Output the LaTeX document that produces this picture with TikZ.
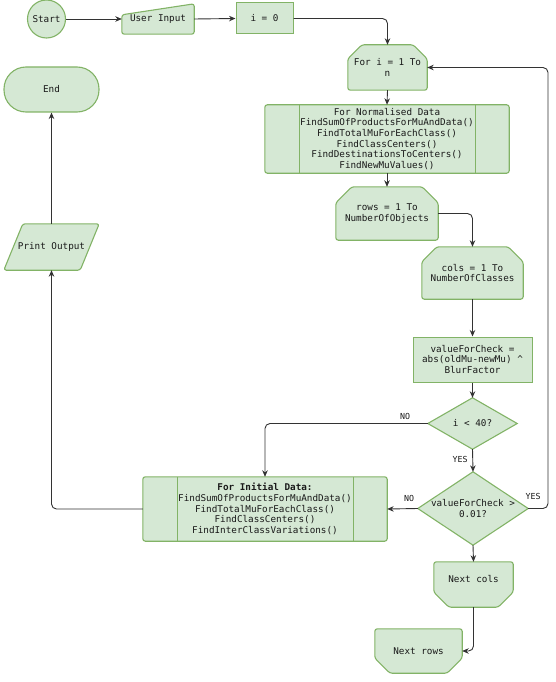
\documentclass[tikz,border=0pt]{standalone}
\usepackage{fontspec}
\newfontfamily\monof{DejaVu Sans Mono}
\usetikzlibrary{arrows.meta,backgrounds,calc}
\definecolor{fillc}{HTML}{D5E8D4}
\definecolor{strokec}{HTML}{82B366}
\definecolor{linec}{HTML}{333333}
\begin{document}
\begin{tikzpicture}[x=1pt,y={(0pt,-1pt)},
  txt/.style={rectangle, inner sep=1pt, align=center, text=black!90,
    font=\monof\fontsize{9.3}{10.7}\selectfont},
  shp/.style={draw=strokec, fill=fillc, line width=1.1pt, rounded corners=2.5pt},
  boxed/.style={txt, draw=strokec, fill=fillc, line width=1pt},
  conn/.style={draw=linec, line width=0.9pt, rounded corners=5pt,
    -{Stealth[length=6.5pt,width=5.5pt]}},
  lbl/.style={inner sep=0pt, text=black!90, font=\monof\fontsize{8.3}{10}\selectfont},
  inner/.style={draw=strokec, line width=1.1pt}]
\useasboundingbox (0,0) rectangle (555,682);

% ---- nodes ----
\node[boxed, circle, minimum size=38pt, inner sep=0pt, line width=1.1pt] (start) at (46.5,19) {Start};
\node[txt, minimum width=72pt, minimum height=30pt] (uin) at (158,19) {User Input};
\node[boxed, minimum width=57pt, minimum height=31pt] (i0) at (264.5,18.5) {i = 0};
\node[boxed, rounded corners=22pt, minimum width=95pt, minimum height=45pt, line width=1.1pt] (end) at (51.5,89.5) {End};
\node[txt, minimum width=79pt, minimum height=45pt] (fori) at (387.5,67.5) {For i = 1 To\\n};
\node[txt, minimum width=244pt, minimum height=68pt] (norm) at (387,139)
  {For Normalised Data\\FindSumOfProductsForMuAndData()\\FindTotalMuForEachClass()\\FindClassCenters()\\FindDestinationsToCenters()\\FindNewMuValues()};
\node[txt, minimum width=102pt, minimum height=53pt] (rows) at (387,213.5) {rows = 1 To\\NumberOfObjects};
\node[txt, minimum width=101pt, minimum height=52pt] (cols) at (472.5,273) {cols = 1 To\\NumberOfClasses};
\node[boxed, minimum width=119pt, minimum height=45pt] (vfc) at (472.5,359.5) {valueForCheck =\\abs(oldMu-newMu) \^{}\\BlurFactor};
\node[txt, minimum width=89pt, minimum height=51pt] (d1) at (472.5,423.5) {i < 40?};
\node[txt, minimum width=110pt, minimum height=73pt] (d2) at (473,508.5) {valueForCheck >\\0.01?};
\node[txt, minimum width=244pt, minimum height=64pt] (init) at (265,509)
  {\textbf{For Initial Data:}\\FindSumOfProductsForMuAndData()\\FindTotalMuForEachClass()\\FindClassCenters()\\FindInterClassVariations()};
\node[txt, minimum width=95pt, minimum height=46pt] (pr) at (51.5,247) {Print Output};
\node[txt, minimum width=79pt, minimum height=45pt] (ncols) at (473.5,584.5) {Next cols\\[-2pt]\strut};
\node[txt, minimum width=87pt, minimum height=44pt] (nrows) at (418.5,651) {Next rows};

% ---- shapes behind text ----
\begin{scope}[on background layer]
  \path[shp] (uin.south west) -- ([yshift=-11pt]uin.north west) -- (uin.north east) -- (uin.south east) -- cycle;
  \foreach \n/\c in {fori/14, rows/16, cols/15}{
    \path[shp] ([yshift=-\c pt]\n.north west) -- ([xshift=\c pt]\n.north west) -- ([xshift=-\c pt]\n.north east)
      -- ([yshift=-\c pt]\n.north east) -- (\n.south east) -- (\n.south west) -- cycle;
  }
  \foreach \n in {ncols, nrows}{
    \path[shp] (\n.north west) -- (\n.north east) -- ([yshift=15pt]\n.south east) -- ([xshift=-15pt]\n.south east)
      -- ([xshift=15pt]\n.south west) -- ([yshift=15pt]\n.south west) -- cycle;
  }
  \foreach \n in {norm, init}{
    \path[shp] (\n.north west) rectangle (\n.south east);
    \draw[inner] ([xshift=35pt]\n.north west) -- ([xshift=35pt]\n.south west);
    \draw[inner] ([xshift=-34pt]\n.north east) -- ([xshift=-34pt]\n.south east);
  }
  \path[shp] (pr.south west) -- ([xshift=19pt]pr.north west) -- (pr.north east) -- ([xshift=-19pt]pr.south east) -- cycle;
  \foreach \n in {d1, d2}{
    \path[shp, sharp corners] (\n.north) -- (\n.east) -- (\n.south) -- (\n.west) -- cycle;
  }
\end{scope}

% ---- connectors ----
\draw[conn] (start.east) -- (uin.west);
\draw[conn] (uin.east) -- (i0.west);
\draw[conn] (i0.east) -| (fori.north);
\draw[conn] (fori.south) -- (norm.north);
\draw[conn] (norm.south) -- (rows.north);
\draw[conn] (rows.east) -| (cols.north);
\draw[conn] (cols.south) -- (vfc.north);
\draw[conn] (vfc.south) -- (d1.north);
\draw[conn] (d1.west) -| (init.north);
\draw[conn] (d1.south) -- (d2.north);
\draw[conn] (d2.west) -- (init.east);
\coordinate (rt) at (548,508.5);
\draw[conn] (d2.east) -- (rt) |- (fori.east);
\draw[conn] (init.west) -| (pr.south);
\draw[conn] (pr.north) -- (end.south);
\draw[conn] (d2.south) -- (ncols.north);
\draw[conn] (ncols.south) |- (nrows.east);

% ---- labels ----
\node[lbl] (no1) at (405,416) {NO};
\node[lbl] (yes1) at (460,459) {YES};
\node[lbl] (no2) at (409,498) {NO};
\node[lbl] (yes2) at (533,496) {YES};
\end{tikzpicture}
\end{document}
